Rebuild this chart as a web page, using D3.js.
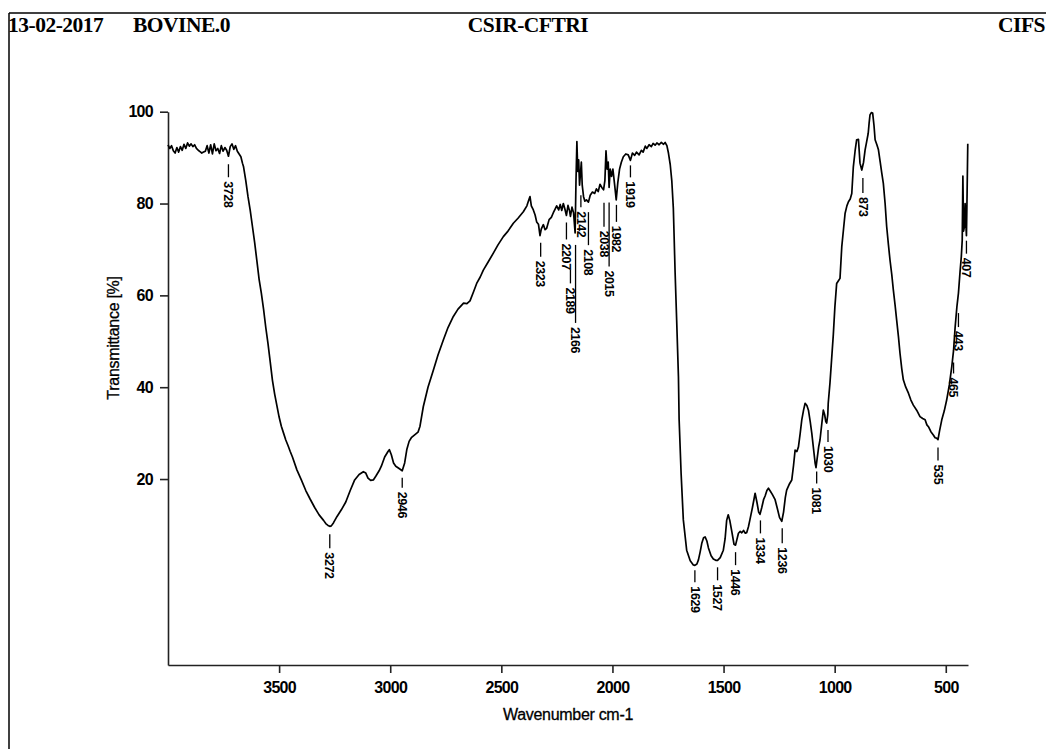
<!DOCTYPE html>
<html>
<head>
<meta charset="utf-8">
<script src="https://cdn.jsdelivr.net/npm/d3@7"></script>
<style>
  body { margin: 0; background: #fff; }
  svg { display: block; }
</style>
</head>
<body>
<div id="chart"></div>
<script>
// header strip
const headerTexts = ["13-02-2017", "BOVINE.0", "CSIR-CFTRI", "CIFS"];

// axes
const xTicks = [3500, 3000, 2500, 2000, 1500, 1000, 500];
const yTicks = [20, 40, 60, 80, 100];

// spectrum: [wavenumber cm-1, transmittance %]
const spectrum = [
  [4000, 92.8], [3992, 92.0], [3984, 92.6], [3976, 91.5], [3968, 91.0], [3960, 92.2],
  [3952, 91.2], [3944, 92.4], [3936, 91.6], [3928, 92.9], [3920, 92.0], [3912, 93.2],
  [3904, 92.5], [3896, 93.0], [3888, 92.4], [3880, 92.8], [3872, 92.0], [3864, 91.6],
  [3856, 91.3], [3848, 91.0], [3840, 91.2], [3832, 91.4], [3824, 92.6], [3816, 91.0],
  [3808, 92.8], [3800, 90.8], [3792, 93.0], [3784, 91.5], [3776, 92.0], [3768, 90.9],
  [3760, 92.6], [3752, 91.4], [3744, 92.2], [3736, 91.6], [3728, 90.3], [3720, 92.4],
  [3712, 93.0], [3704, 91.8], [3696, 92.6], [3688, 91.4], [3680, 90.8], [3672, 90.2],
  [3665, 88.8], [3660, 88.0], [3650, 85.0], [3640, 81.5], [3630, 78.5], [3620, 75.0],
  [3610, 71.5], [3600, 67.5], [3590, 63.5], [3580, 60.5], [3570, 57.0], [3560, 53.0],
  [3550, 49.5], [3540, 45.5], [3530, 41.5], [3520, 38.5], [3510, 36.0], [3500, 33.5],
  [3490, 31.5], [3480, 30.0], [3470, 28.5], [3460, 27.3], [3450, 26.0], [3440, 24.8],
  [3420, 22.0], [3400, 19.8], [3380, 17.5], [3360, 15.6], [3340, 13.8], [3320, 12.2],
  [3300, 11.0], [3290, 10.3], [3280, 9.9], [3272, 9.7], [3265, 9.8], [3255, 10.5],
  [3240, 11.8], [3220, 13.3], [3200, 15.0], [3180, 17.5], [3160, 19.8], [3140, 21.0],
  [3121, 21.6], [3110, 21.3], [3100, 20.2], [3088, 19.7], [3076, 19.8], [3065, 20.6],
  [3050, 21.8], [3040, 22.8], [3025, 24.8], [3010, 26.0], [3004, 26.4], [2995, 25.3],
  [2985, 23.5], [2975, 22.8], [2960, 22.3], [2946, 21.8], [2935, 23.5], [2925, 26.5],
  [2915, 28.2], [2905, 29.0], [2890, 29.6], [2875, 30.2], [2866, 31.5], [2851, 35.8],
  [2830, 40.0], [2806, 43.7], [2785, 47.0], [2761, 50.3], [2740, 53.0], [2716, 55.4],
  [2695, 57.0], [2670, 58.3], [2655, 58.2], [2641, 58.8], [2625, 60.8], [2611, 62.6],
  [2595, 64.0], [2581, 65.5], [2560, 67.2], [2536, 69.2], [2515, 71.0], [2491, 72.8],
  [2470, 74.0], [2446, 75.7], [2425, 76.8], [2401, 78.2], [2385, 79.5], [2375, 81.0],
  [2371, 81.5], [2365, 79.5], [2356, 78.6], [2348, 77.5], [2341, 76.0], [2333, 75.5],
  [2326, 73.0], [2320, 74.5], [2311, 75.4], [2303, 74.3], [2296, 74.6], [2285, 76.5],
  [2275, 77.0], [2266, 78.0], [2258, 78.8], [2251, 79.5], [2242, 78.6], [2235, 79.8],
  [2228, 78.5], [2221, 80.0], [2214, 78.8], [2207, 77.4], [2200, 79.6], [2193, 78.4],
  [2189, 77.2], [2182, 79.2], [2175, 78.0], [2168, 73.6], [2164, 85.0], [2160, 93.5],
  [2156, 87.0], [2152, 89.5], [2148, 84.0], [2144, 86.5], [2140, 89.0], [2136, 84.0],
  [2130, 81.5], [2124, 80.5], [2117, 80.8], [2108, 80.3], [2100, 81.8], [2090, 82.5],
  [2080, 82.2], [2072, 83.2], [2064, 82.6], [2056, 84.2], [2048, 83.5], [2040, 83.0],
  [2034, 85.0], [2029, 91.5], [2024, 87.5], [2019, 89.0], [2015, 83.5], [2010, 87.5],
  [2004, 85.9], [1998, 87.5], [1990, 84.0], [1983, 80.8], [1976, 84.5], [1968, 87.5],
  [1960, 89.0], [1951, 90.2], [1940, 90.8], [1929, 90.6], [1919, 89.4], [1910, 91.0],
  [1900, 90.5], [1892, 91.2], [1880, 90.6], [1870, 91.6], [1862, 91.2], [1852, 92.5],
  [1845, 92.0], [1835, 92.8], [1825, 92.4], [1817, 93.1], [1808, 92.7], [1800, 93.2],
  [1790, 92.8], [1780, 93.3], [1770, 92.9], [1763, 93.3], [1755, 92.6], [1748, 91.0],
  [1740, 88.5], [1733, 85.0], [1726, 79.0], [1722, 72.0], [1718, 65.0], [1711, 54.6],
  [1703, 42.3], [1700, 33.0], [1691, 21.2], [1681, 11.1], [1666, 4.5], [1650, 2.2],
  [1636, 1.3], [1629, 1.2], [1620, 1.5], [1613, 2.4], [1605, 4.2], [1598, 6.0],
  [1590, 7.2], [1583, 7.4], [1575, 6.5], [1568, 5.0], [1556, 3.3], [1546, 2.6],
  [1535, 2.3], [1527, 2.3], [1515, 2.9], [1501, 4.5], [1493, 7.0], [1486, 11.0],
  [1479, 12.2], [1472, 11.0], [1463, 8.6], [1453, 5.8], [1446, 5.6], [1440, 6.8],
  [1433, 8.2], [1425, 8.6], [1418, 8.3], [1410, 8.8], [1402, 8.2], [1396, 8.3],
  [1388, 9.6], [1381, 11.2], [1370, 13.8], [1358, 16.9], [1350, 15.0], [1342, 12.8],
  [1336, 12.3], [1328, 13.8], [1320, 15.5], [1313, 16.3], [1305, 17.5], [1298, 18.0],
  [1290, 17.4], [1280, 16.6], [1268, 15.5], [1258, 13.6], [1248, 11.6], [1238, 10.8],
  [1230, 12.8], [1222, 16.0], [1216, 17.6], [1205, 18.8], [1193, 19.8], [1185, 23.0],
  [1178, 26.3], [1170, 26.0], [1163, 27.0], [1155, 30.0], [1148, 32.9], [1140, 35.0],
  [1133, 36.5], [1125, 36.0], [1118, 35.0], [1110, 32.5], [1103, 30.0], [1095, 26.5],
  [1088, 23.5], [1084, 22.5], [1080, 24.0], [1072, 27.0], [1066, 28.5], [1058, 32.0],
  [1051, 35.0], [1045, 34.0], [1040, 32.5], [1036, 32.2], [1031, 34.0], [1029, 36.5],
  [1021, 41.0], [1014, 45.9], [1006, 51.5], [999, 57.5], [991, 62.6], [983, 63.2],
  [976, 63.7], [968, 70.6], [960, 74.5], [953, 77.9], [945, 79.5], [938, 80.4],
  [930, 81.0], [923, 82.2], [916, 88.0], [908, 91.5], [901, 93.9], [893, 94.0],
  [886, 88.8], [878, 87.3], [870, 89.0], [863, 91.7], [856, 93.5], [849, 95.3],
  [845, 97.5], [841, 99.3], [835, 99.8], [829, 99.7], [823, 97.0], [818, 93.9],
  [810, 92.8], [803, 91.7], [795, 89.0], [788, 86.6], [781, 84.4], [773, 80.0],
  [766, 75.0], [758, 71.0], [751, 67.7], [743, 64.5], [736, 61.2], [728, 57.8],
  [721, 54.6], [713, 51.0], [706, 47.4], [698, 44.0], [691, 41.6], [680, 40.0],
  [668, 38.7], [657, 37.2], [646, 36.1], [631, 35.0], [616, 33.6], [604, 33.2],
  [593, 32.9], [585, 31.8], [578, 31.4], [567, 30.3], [556, 29.6], [548, 29.0],
  [541, 28.9], [535, 28.6], [528, 30.5], [518, 32.9], [507, 34.8], [496, 37.2],
  [484, 40.5], [473, 44.5], [465, 48.0], [458, 53.0], [450, 57.5], [443, 60.5],
  [436, 65.0], [430, 68.5], [426, 72.0], [423, 86.0], [420, 74.0], [416, 75.0],
  [413, 80.0], [410, 76.0], [407, 73.0], [404, 82.5], [401, 93.0]
];

// picked peaks (wavenumber, transmittance at the peak)
const peakWn = [3728, 3272, 2946, 2323, 2207, 2189, 2166, 2142, 2108, 2038, 2015, 1982, 1919,
                1629, 1527, 1446, 1334, 1236, 1081, 1030, 873, 535, 465, 443, 407];
const peakT  = [90.3, 9.7, 21.8, 73.0, 77.4, 77.2, 73.6, 84.0, 80.3, 83.0, 83.5, 80.8, 89.4,
                1.2, 2.3, 5.6, 12.3, 10.8, 22.5, 32.2, 87.3, 28.6, 48.0, 60.5, 73.0];

function createChart() {
  const width = 1046;
  const height = 749;

  const svg = d3
    .select("#chart")
    .append("svg")
    .attr("width", width)
    .attr("height", height)
    .style("font-family", "'Liberation Sans', Arial, sans-serif");

  // frame lines of the printout
  svg.append("line")
    .attr("x1", 9).attr("x2", width).attr("y1", 13).attr("y2", 13)
    .attr("stroke", "#000").attr("stroke-width", 1.5);
  svg.append("line")
    .attr("x1", 9).attr("x2", 9).attr("y1", 13).attr("y2", height)
    .attr("stroke", "#000").attr("stroke-width", 1.5);

  const headerX = [8, 133, 528, 1045];
  const headerAnchor = ["start", "start", "middle", "end"];
  svg.append("g")
    .selectAll("text")
    .data(headerTexts)
    .join("text")
    .attr("x", (d, i) => headerX[i])
    .attr("y", 32)
    .attr("text-anchor", (d, i) => headerAnchor[i])
    .attr("font-family", "'Liberation Serif', 'Times New Roman', serif")
    .attr("font-weight", "bold")
    .attr("font-size", 21.5)
    .attr("letter-spacing", -0.5)
    .text((d) => d);

  const x = d3.scaleLinear().domain([4000, 400]).range([168, 968]);
  const y = d3.scaleLinear().domain([-20.5, 100]).range([665, 111.7]);

  const xAxis = svg.append("g")
    .attr("transform", "translate(0,665)")
    .call(d3.axisBottom(x).tickValues(xTicks).tickFormat(d3.format("d"))
      .tickSize(8).tickPadding(9).tickSizeOuter(0));
  const yAxis = svg.append("g")
    .attr("transform", "translate(168,0)")
    .call(d3.axisLeft(y).tickValues(yTicks).tickSize(8).tickPadding(7).tickSizeOuter(0));

  [xAxis, yAxis].forEach((g) => {
    g.selectAll("path, line").attr("stroke", "#222").attr("stroke-width", 1.6);
    g.selectAll("text")
      .attr("fill", "#000")
      .attr("font-size", 16)
      .attr("font-weight", "bold")
      .attr("letter-spacing", -0.7)
      .attr("font-family", "'Liberation Sans', Arial, sans-serif");
  });

  svg.append("text")
    .attr("transform", "translate(119,338) rotate(-90)")
    .attr("text-anchor", "middle")
    .attr("font-size", 16)
    .attr("letter-spacing", -0.3)
    .attr("stroke", "#000")
    .attr("stroke-width", 0.3)
    .text("Transmittance [%]");

  svg.append("text")
    .attr("x", 568)
    .attr("y", 720)
    .attr("text-anchor", "middle")
    .attr("font-size", 16)
    .attr("letter-spacing", -0.3)
    .attr("stroke", "#000")
    .attr("stroke-width", 0.3)
    .text("Wavenumber cm-1");

  const line = d3.line()
    .x((d) => x(d[0]))
    .y((d) => y(d[1]));

  svg.append("path")
    .datum(spectrum)
    .attr("fill", "none")
    .attr("stroke", "#000")
    .attr("stroke-width", 1.7)
    .attr("stroke-linejoin", "round")
    .attr("d", line);

  // leader line offsets per label [gap below peak, line length], to keep labels apart
  const leader = {
    3728: [8, 13], 3272: [8, 14], 2946: [7, 10], 2323: [7, 14], 2207: [7, 17],
    2189: [53, 14], 2166: [12, 78], 2142: [10, 12], 2108: [10, 33], 2038: [13, 24],
    2015: [15, 64], 1982: [5, 17], 1919: [5, 12], 1629: [5, 12], 1527: [7, 13],
    1446: [7, 13], 1334: [6, 13], 1236: [7, 15], 1081: [4, 12], 1030: [7, 12],
    873: [8, 15], 535: [8, 13], 465: [12, 11], 443: [20, 14], 407: [5, 13]
  };

  const peaks = peakWn.map((wn, i) => ({ wn, t: peakT[i] }));

  const lab = svg.append("g")
    .selectAll("g")
    .data(peaks)
    .join("g")
    .attr("transform", (d) => `translate(${x(d.wn)},${y(d.t)})`);

  lab.append("line")
    .attr("x1", 0).attr("x2", 0)
    .attr("y1", (d) => leader[d.wn][0])
    .attr("y2", (d) => leader[d.wn][0] + leader[d.wn][1])
    .attr("stroke", "#000")
    .attr("stroke-width", 1.3);

  lab.append("text")
    .attr("transform", (d) => `translate(0,${leader[d.wn][0] + leader[d.wn][1] + 4}) rotate(90)`)
    .attr("dy", "0.35em")
    .attr("font-size", 12.5)
    .attr("font-weight", "bold")
    .attr("letter-spacing", -0.4)
    .text((d) => d.wn);
}

document.addEventListener("DOMContentLoaded", createChart);
</script>
</body>
</html>
